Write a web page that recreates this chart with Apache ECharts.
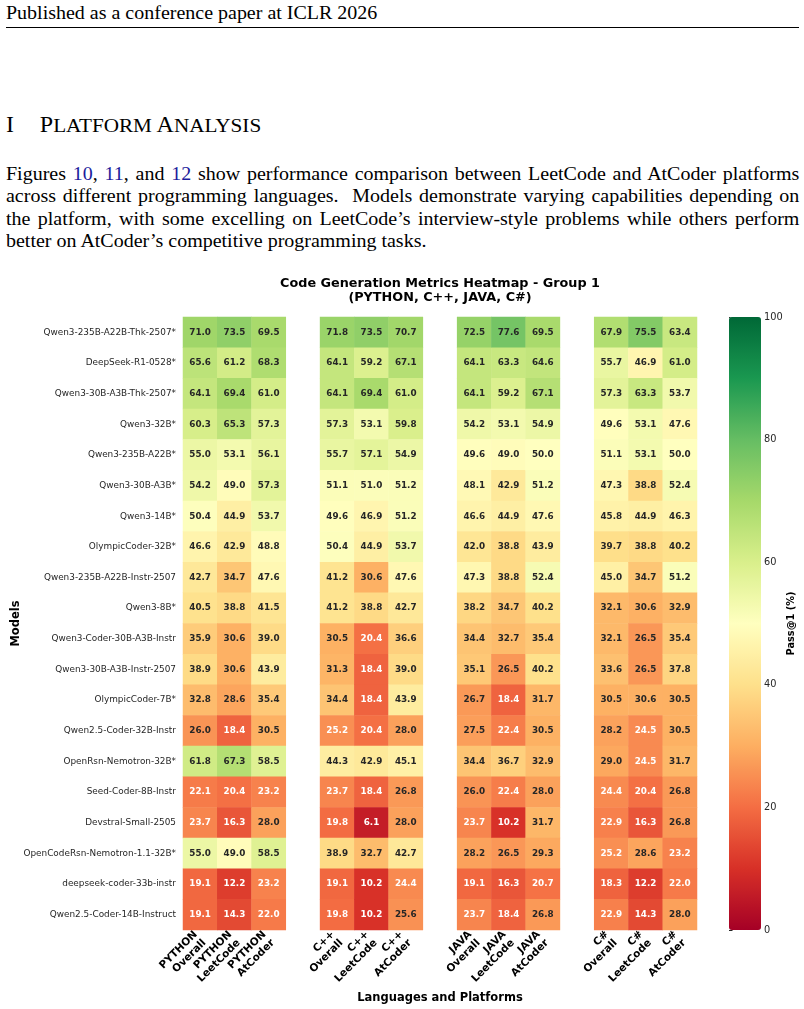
<!DOCTYPE html>
<html>
<head>
<meta charset="utf-8">
<script src="https://cdn.jsdelivr.net/npm/echarts@6/dist/echarts.min.js"></script>
<style>
  body { margin: 0; background: #fff; width: 804px; height: 1009px; position: relative; overflow: hidden;
         font-family: "Liberation Serif", "Times New Roman", serif; color: #000; }
  .stretch { position: absolute; left: 6px; transform: scaleX(1.075); transform-origin: 0 0; }
  #head { top: 4px; font-size: 18.6px; line-height: 1; white-space: nowrap; }
  #rule { position: absolute; left: 6px; top: 27px; width: 793px; height: 1px; background: #000; }
  #sec { top: 114px; font-size: 22.3px; line-height: 1; white-space: nowrap; }
  #sec .t { margin-left: 24px; }
  #sec .sc { font-size: 19.7px; }
  #para { top: 163px; width: 738px; font-size: 18.6px; line-height: 22.3px; text-align: justify; }
  .ref { color: #1c1c9c; }
  #chart { position: absolute; left: 0; top: 0; width: 804px; height: 1009px; }
</style>
</head>
<body>
<div id="head" class="stretch">Published as a conference paper at ICLR 2026</div>
<div id="rule"></div>
<div id="sec" class="stretch">I<span class="t">P<span class="sc">LATFORM</span> A<span class="sc">NALYSIS</span></span></div>
<div id="para" class="stretch">Figures <span class="ref">10</span>, <span class="ref">11</span>, and <span class="ref">12</span> show performance comparison between LeetCode and AtCoder platforms across different programming languages.&nbsp; Models demonstrate varying capabilities depending on the platform, with some excelling on LeetCode’s interview-style problems while others perform better on AtCoder’s competitive programming tasks.</div>
<div id="chart"></div>
<script>
// model rows, top to bottom
var models = [
  'Qwen3-235B-A22B-Thk-2507*', 'DeepSeek-R1-0528*', 'Qwen3-30B-A3B-Thk-2507*', 'Qwen3-32B*',
  'Qwen3-235B-A22B*', 'Qwen3-30B-A3B*', 'Qwen3-14B*', 'OlympicCoder-32B*',
  'Qwen3-235B-A22B-Instr-2507', 'Qwen3-8B*', 'Qwen3-Coder-30B-A3B-Instr', 'Qwen3-30B-A3B-Instr-2507',
  'OlympicCoder-7B*', 'Qwen2.5-Coder-32B-Instr', 'OpenRsn-Nemotron-32B*', 'Seed-Coder-8B-Instr',
  'Devstral-Small-2505', 'OpenCodeRsn-Nemotron-1.1-32B*', 'deepseek-coder-33b-instr', 'Qwen2.5-Coder-14B-Instruct'
];
var languages = ['PYTHON', 'C++', 'JAVA', 'C#'];
var platforms = ['Overall', 'LeetCode', 'AtCoder'];

// pass@1 (%) per column
var pythonOverall  = [71.0, 65.6, 64.1, 60.3, 55.0, 54.2, 50.4, 46.6, 42.7, 40.5, 35.9, 38.9, 32.8, 26.0, 61.8, 22.1, 23.7, 55.0, 19.1, 19.1];
var pythonLeetCode = [73.5, 61.2, 69.4, 65.3, 53.1, 49.0, 44.9, 42.9, 34.7, 38.8, 30.6, 30.6, 28.6, 18.4, 67.3, 20.4, 16.3, 49.0, 12.2, 14.3];
var pythonAtCoder  = [69.5, 68.3, 61.0, 57.3, 56.1, 57.3, 53.7, 48.8, 47.6, 41.5, 39.0, 43.9, 35.4, 30.5, 58.5, 23.2, 28.0, 58.5, 23.2, 22.0];
var cppOverall     = [71.8, 64.1, 64.1, 57.3, 55.7, 51.1, 49.6, 50.4, 41.2, 41.2, 30.5, 31.3, 34.4, 25.2, 44.3, 23.7, 19.8, 38.9, 19.1, 19.8];
var cppLeetCode    = [73.5, 59.2, 69.4, 53.1, 57.1, 51.0, 46.9, 44.9, 30.6, 38.8, 20.4, 18.4, 18.4, 20.4, 42.9, 18.4, 6.1, 32.7, 10.2, 10.2];
var cppAtCoder     = [70.7, 67.1, 61.0, 59.8, 54.9, 51.2, 51.2, 53.7, 47.6, 42.7, 36.6, 39.0, 43.9, 28.0, 45.1, 26.8, 28.0, 42.7, 24.4, 25.6];
var javaOverall    = [72.5, 64.1, 64.1, 54.2, 49.6, 48.1, 46.6, 42.0, 47.3, 38.2, 34.4, 35.1, 26.7, 27.5, 34.4, 26.0, 23.7, 28.2, 19.1, 23.7];
var javaLeetCode   = [77.6, 63.3, 59.2, 53.1, 49.0, 42.9, 44.9, 38.8, 38.8, 34.7, 32.7, 26.5, 18.4, 22.4, 36.7, 22.4, 10.2, 26.5, 16.3, 18.4];
var javaAtCoder    = [69.5, 64.6, 67.1, 54.9, 50.0, 51.2, 47.6, 43.9, 52.4, 40.2, 35.4, 40.2, 31.7, 30.5, 32.9, 28.0, 31.7, 29.3, 20.7, 26.8];
var csOverall      = [67.9, 55.7, 57.3, 49.6, 51.1, 47.3, 45.8, 39.7, 45.0, 32.1, 32.1, 33.6, 30.5, 28.2, 29.0, 24.4, 22.9, 25.2, 18.3, 22.9];
var csLeetCode     = [75.5, 46.9, 63.3, 53.1, 53.1, 38.8, 44.9, 38.8, 34.7, 30.6, 26.5, 26.5, 30.6, 24.5, 24.5, 20.4, 16.3, 28.6, 12.2, 14.3];
var csAtCoder      = [63.4, 61.0, 53.7, 47.6, 50.0, 52.4, 46.3, 40.2, 51.2, 32.9, 35.4, 37.8, 30.5, 30.5, 31.7, 26.8, 26.8, 23.2, 22.0, 28.0];

var scores = {
  'PYTHON': [pythonOverall, pythonLeetCode, pythonAtCoder],
  'C++': [cppOverall, cppLeetCode, cppAtCoder],
  'JAVA': [javaOverall, javaLeetCode, javaAtCoder],
  'C#': [csOverall, csLeetCode, csAtCoder]
};

// RdYlGn
var rdYlGn = ['#a50026', '#d73027', '#f46d43', '#fdae61', '#fee08b', '#ffffbf',
              '#d9ef8b', '#a6d96a', '#66bd63', '#1a9850', '#006837'];

var font = 'DejaVu Sans';
var xCats = [];
var cells = [];
languages.forEach(function (lang, li) {
  if (li > 0) xCats.push('gap' + li);   // empty column between languages
  platforms.forEach(function (plat, pi) {
    var col = xCats.length;
    xCats.push(lang + '\n' + plat);
    scores[lang][pi].forEach(function (v, row) {
      cells.push({ value: [col, row, v], label: { color: v < 25.5 ? '#ffffff' : '#262626' } });
    });
  });
});
function isGap(v) { return v.indexOf('gap') === 0; }

var chart = echarts.init(document.getElementById('chart'));
chart.setOption({
  animation: false,
  title: {
    text: 'Code Generation Metrics Heatmap - Group 1\n(PYTHON, C++, JAVA, C#)',
    left: 440, top: 276, textAlign: 'center', padding: 0,
    textStyle: { fontFamily: font, fontSize: 12.8, fontWeight: 'bold', color: '#000', lineHeight: 14.5 }
  },
  grid: [
    { left: 183, top: 317, width: 514, height: 613, outerBoundsMode: 'none', containLabel: false },
    { left: 729, top: 317, width: 32, height: 613, outerBoundsMode: 'none', containLabel: false }
  ],
  xAxis: [{
    type: 'category', data: xCats, gridIndex: 0, position: 'bottom',
    axisLine: { show: false },
    axisTick: { alignWithLabel: true, length: 3.5, interval: function (i, v) { return !isGap(v); },
                lineStyle: { color: '#262626' } },
    axisLabel: { interval: 0, rotate: 45, margin: 7, fontFamily: font, fontSize: 10.5, fontWeight: 'bold',
                 color: '#000', lineHeight: 12,
                 formatter: function (v) { return isGap(v) ? '' : v; } },
    splitLine: { show: false },
    name: 'Languages and Platforms', nameLocation: 'middle', nameGap: 59,
    nameTextStyle: { fontFamily: font, fontSize: 11.5, fontWeight: 'bold', color: '#000' }
  }, {
    type: 'value', gridIndex: 1, show: false, min: 0, max: 1
  }],
  yAxis: [{
    type: 'category', data: models, inverse: true, gridIndex: 0,
    axisLine: { show: false },
    axisTick: { alignWithLabel: true, length: 3.5, lineStyle: { color: '#262626' } },
    axisLabel: { margin: 7, fontFamily: font, fontSize: 8.9, color: '#262626' },
    splitLine: { show: false },
    name: 'Models', nameLocation: 'middle', nameGap: 161, nameMoveOverlap: false,
    nameTextStyle: { fontFamily: font, fontSize: 11.5, fontWeight: 'bold', color: '#000' }
  }, {
    type: 'value', gridIndex: 1, position: 'right', min: 0, max: 100, interval: 20,
    axisLine: { show: false },
    axisTick: { show: true, length: 3.5, lineStyle: { color: '#262626' } },
    axisLabel: { margin: 3, fontFamily: font, fontSize: 9.8, color: '#262626' },
    splitLine: { show: false },
    name: 'Pass@1 (%)', nameLocation: 'middle', nameRotate: 90, nameGap: 23,
    nameTextStyle: { fontFamily: font, fontSize: 9.8, fontWeight: 'bold', color: '#000' }
  }],
  visualMap: {
    type: 'continuous', min: 0, max: 100, seriesIndex: 0, calculable: false,
    left: 729, top: 317, itemWidth: 32, itemHeight: 613, padding: 0, indicatorSize: 0,
    inRange: { color: rdYlGn }
  },
  series: [{
    type: 'heatmap', xAxisIndex: 0, yAxisIndex: 0, data: cells,
    itemStyle: { borderWidth: 0 },
    emphasis: { disabled: true },
    label: {
      show: true, fontFamily: font, fontSize: 8.8, fontWeight: 'bold',
      formatter: function (p) { return p.value[2].toFixed(1); }
    }
  }]
});
</script>
</body>
</html>
